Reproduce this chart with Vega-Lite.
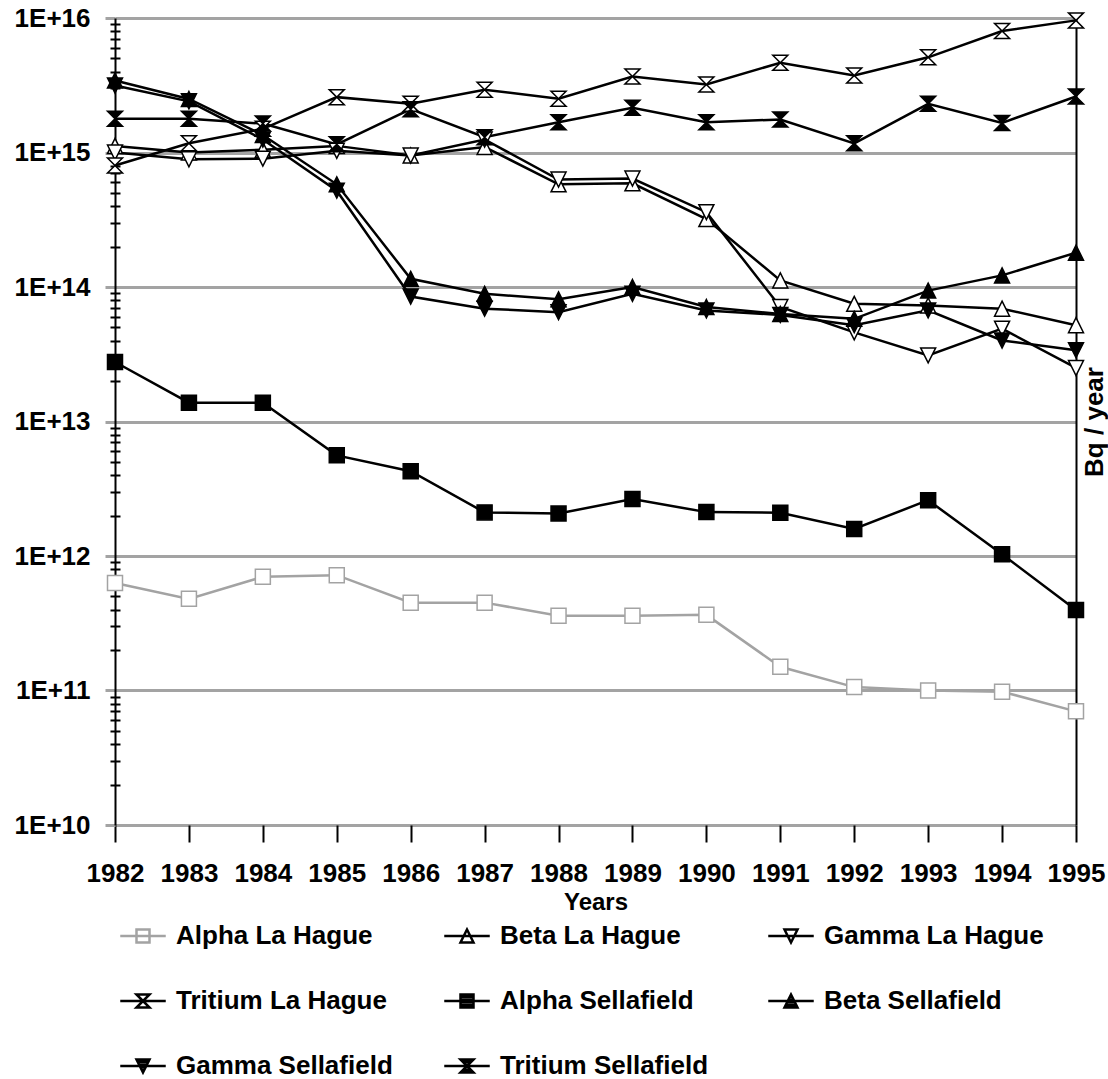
{
  "$schema": "https://vega.github.io/schema/vega-lite/v6.json",
  "width": 961,
  "height": 807,
  "autosize": {"type": "none"},
  "padding": {"left": 115, "top": 18, "right": 32, "bottom": 254},
  "background": "white",
  "config": {
    "view": {"stroke": null},
    "font": "Liberation Sans",
    "axis": {"labelFont": "Liberation Sans", "labelFontWeight": "bold", "labelFontSize": 26, "labelColor": "black", "titleFont": "Liberation Sans", "titleFontWeight": "bold", "titleColor": "black"}
  },
  "data": {"values": [
    {"series":"Alpha La Hague","year":1982,"value":6.3e11},
    {"series":"Alpha La Hague","year":1983,"value":4.8e11},
    {"series":"Alpha La Hague","year":1984,"value":7.0e11},
    {"series":"Alpha La Hague","year":1985,"value":7.2e11},
    {"series":"Alpha La Hague","year":1986,"value":4.5e11},
    {"series":"Alpha La Hague","year":1987,"value":4.5e11},
    {"series":"Alpha La Hague","year":1988,"value":3.6e11},
    {"series":"Alpha La Hague","year":1989,"value":3.6e11},
    {"series":"Alpha La Hague","year":1990,"value":3.65e11},
    {"series":"Alpha La Hague","year":1991,"value":1.5e11},
    {"series":"Alpha La Hague","year":1992,"value":1.06e11},
    {"series":"Alpha La Hague","year":1993,"value":1.0e11},
    {"series":"Alpha La Hague","year":1994,"value":0.98e11},
    {"series":"Alpha La Hague","year":1995,"value":7.0e10},
    {"series":"Beta La Hague","year":1982,"value":1.12e15},
    {"series":"Beta La Hague","year":1983,"value":1.0e15},
    {"series":"Beta La Hague","year":1984,"value":1.05e15},
    {"series":"Beta La Hague","year":1985,"value":1.12e15},
    {"series":"Beta La Hague","year":1986,"value":0.95e15},
    {"series":"Beta La Hague","year":1987,"value":1.1e15},
    {"series":"Beta La Hague","year":1988,"value":5.8e14},
    {"series":"Beta La Hague","year":1989,"value":5.9e14},
    {"series":"Beta La Hague","year":1990,"value":3.2e14},
    {"series":"Beta La Hague","year":1991,"value":1.12e14},
    {"series":"Beta La Hague","year":1992,"value":7.5e13},
    {"series":"Beta La Hague","year":1993,"value":7.3e13},
    {"series":"Beta La Hague","year":1994,"value":6.9e13},
    {"series":"Beta La Hague","year":1995,"value":5.2e13},
    {"series":"Gamma La Hague","year":1982,"value":1.0e15},
    {"series":"Gamma La Hague","year":1983,"value":8.9e14},
    {"series":"Gamma La Hague","year":1984,"value":9.0e14},
    {"series":"Gamma La Hague","year":1985,"value":1.03e15},
    {"series":"Gamma La Hague","year":1986,"value":0.95e15},
    {"series":"Gamma La Hague","year":1987,"value":1.25e15},
    {"series":"Gamma La Hague","year":1988,"value":6.3e14},
    {"series":"Gamma La Hague","year":1989,"value":6.4e14},
    {"series":"Gamma La Hague","year":1990,"value":3.6e14},
    {"series":"Gamma La Hague","year":1991,"value":7.1e13},
    {"series":"Gamma La Hague","year":1992,"value":4.6e13},
    {"series":"Gamma La Hague","year":1993,"value":3.1e13},
    {"series":"Gamma La Hague","year":1994,"value":4.9e13},
    {"series":"Gamma La Hague","year":1995,"value":2.5e13},
    {"series":"Tritium La Hague","year":1982,"value":8.0e14},
    {"series":"Tritium La Hague","year":1983,"value":1.17e15},
    {"series":"Tritium La Hague","year":1984,"value":1.5e15},
    {"series":"Tritium La Hague","year":1985,"value":2.58e15},
    {"series":"Tritium La Hague","year":1986,"value":2.3e15},
    {"series":"Tritium La Hague","year":1987,"value":2.93e15},
    {"series":"Tritium La Hague","year":1988,"value":2.51e15},
    {"series":"Tritium La Hague","year":1989,"value":3.67e15},
    {"series":"Tritium La Hague","year":1990,"value":3.2e15},
    {"series":"Tritium La Hague","year":1991,"value":4.65e15},
    {"series":"Tritium La Hague","year":1992,"value":3.74e15},
    {"series":"Tritium La Hague","year":1993,"value":5.1e15},
    {"series":"Tritium La Hague","year":1994,"value":8.0e15},
    {"series":"Tritium La Hague","year":1995,"value":9.6e15},
    {"series":"Alpha Sellafield","year":1982,"value":2.77e13},
    {"series":"Alpha Sellafield","year":1983,"value":1.38e13},
    {"series":"Alpha Sellafield","year":1984,"value":1.38e13},
    {"series":"Alpha Sellafield","year":1985,"value":5.6e12},
    {"series":"Alpha Sellafield","year":1986,"value":4.27e12},
    {"series":"Alpha Sellafield","year":1987,"value":2.11e12},
    {"series":"Alpha Sellafield","year":1988,"value":2.07e12},
    {"series":"Alpha Sellafield","year":1989,"value":2.65e12},
    {"series":"Alpha Sellafield","year":1990,"value":2.12e12},
    {"series":"Alpha Sellafield","year":1991,"value":2.1e12},
    {"series":"Alpha Sellafield","year":1992,"value":1.59e12},
    {"series":"Alpha Sellafield","year":1993,"value":2.6e12},
    {"series":"Alpha Sellafield","year":1994,"value":1.03e12},
    {"series":"Alpha Sellafield","year":1995,"value":3.96e11},
    {"series":"Beta Sellafield","year":1982,"value":3.43e15},
    {"series":"Beta Sellafield","year":1983,"value":2.5e15},
    {"series":"Beta Sellafield","year":1984,"value":1.35e15},
    {"series":"Beta Sellafield","year":1985,"value":5.8e14},
    {"series":"Beta Sellafield","year":1986,"value":1.15e14},
    {"series":"Beta Sellafield","year":1987,"value":8.9e13},
    {"series":"Beta Sellafield","year":1988,"value":8.1e13},
    {"series":"Beta Sellafield","year":1989,"value":1.0e14},
    {"series":"Beta Sellafield","year":1990,"value":7.1e13},
    {"series":"Beta Sellafield","year":1991,"value":6.3e13},
    {"series":"Beta Sellafield","year":1992,"value":5.8e13},
    {"series":"Beta Sellafield","year":1993,"value":9.4e13},
    {"series":"Beta Sellafield","year":1994,"value":1.22e14},
    {"series":"Beta Sellafield","year":1995,"value":1.8e14},
    {"series":"Gamma Sellafield","year":1982,"value":3.15e15},
    {"series":"Gamma Sellafield","year":1983,"value":2.4e15},
    {"series":"Gamma Sellafield","year":1984,"value":1.25e15},
    {"series":"Gamma Sellafield","year":1985,"value":5.2e14},
    {"series":"Gamma Sellafield","year":1986,"value":8.5e13},
    {"series":"Gamma Sellafield","year":1987,"value":6.9e13},
    {"series":"Gamma Sellafield","year":1988,"value":6.5e13},
    {"series":"Gamma Sellafield","year":1989,"value":8.9e13},
    {"series":"Gamma Sellafield","year":1990,"value":6.7e13},
    {"series":"Gamma Sellafield","year":1991,"value":6.2e13},
    {"series":"Gamma Sellafield","year":1992,"value":5.2e13},
    {"series":"Gamma Sellafield","year":1993,"value":6.7e13},
    {"series":"Gamma Sellafield","year":1994,"value":4.0e13},
    {"series":"Gamma Sellafield","year":1995,"value":3.39e13},
    {"series":"Tritium Sellafield","year":1982,"value":1.78e15},
    {"series":"Tritium Sellafield","year":1983,"value":1.78e15},
    {"series":"Tritium Sellafield","year":1984,"value":1.64e15},
    {"series":"Tritium Sellafield","year":1985,"value":1.15e15},
    {"series":"Tritium Sellafield","year":1986,"value":2.1e15},
    {"series":"Tritium Sellafield","year":1987,"value":1.3e15},
    {"series":"Tritium Sellafield","year":1988,"value":1.68e15},
    {"series":"Tritium Sellafield","year":1989,"value":2.15e15},
    {"series":"Tritium Sellafield","year":1990,"value":1.68e15},
    {"series":"Tritium Sellafield","year":1991,"value":1.76e15},
    {"series":"Tritium Sellafield","year":1992,"value":1.17e15},
    {"series":"Tritium Sellafield","year":1993,"value":2.3e15},
    {"series":"Tritium Sellafield","year":1994,"value":1.66e15},
    {"series":"Tritium Sellafield","year":1995,"value":2.61e15}
  ]},
  "encoding": {
    "x": {
      "field": "year", "type": "quantitative",
      "scale": {"domain": [1982, 1995], "nice": false, "zero": false},
      "axis": {
        "title": "Years", "titleFontSize": 24, "titlePadding": 4,
        "values": [1982,1983,1984,1985,1986,1987,1988,1989,1990,1991,1992,1993,1994,1995],
        "format": "d", "grid": false, "domain": false,
        "tickColor": "black", "tickWidth": 2, "tickSize": 17,
        "labelPadding": 18, "labelFlush": false, "labelOverlap": false
      }
    }
  },
  "layer": [
    {
      "mark": {"type": "line", "strokeWidth": 2.5},
      "encoding": {
        "y": {
          "field": "value", "type": "quantitative",
          "scale": {"type": "log", "domain": [1e10, 1e16], "nice": false},
          "axis": {
            "orient": "left", "title": null,
            "values": [1e10, 1e11, 1e12, 1e13, 1e14, 1e15, 1e16],
            "labelExpr": "'1E+' + round(log(datum.value) / LN10)",
            "grid": true, "gridColor": "#a3a3a3", "gridWidth": 3,
            "tickColor": "#a3a3a3", "tickWidth": 3, "tickSize": 10,
            "domainColor": "black", "domainWidth": 2,
            "labelPadding": 15, "labelOverlap": false, "labelFlush": false
          }
        },
        "stroke": {
          "field": "series", "type": "nominal", "legend": null,
          "scale": {
            "domain": ["Alpha La Hague","Beta La Hague","Gamma La Hague","Tritium La Hague","Alpha Sellafield","Beta Sellafield","Gamma Sellafield","Tritium Sellafield"],
            "range": ["#a3a3a3","black","black","black","black","black","black","black"]
          }
        },
        "detail": {"field": "series"},
        "order": {"field": "year", "type": "quantitative"}
      }
    },
    {
      "mark": {"type": "point", "filled": true, "size": 225, "strokeWidth": 1.5, "opacity": 1},
      "encoding": {
        "y": {
          "field": "value", "type": "quantitative",
          "scale": {"type": "log", "domain": [1e10, 1e16], "nice": false},
          "axis": {
            "orient": "right", "title": "Bq / year", "titleFontSize": 26, "titleAngle": 270,
            "titlePadding": 31, "labels": false, "ticks": false, "grid": false,
            "domainColor": "black", "domainWidth": 2
          }
        },
        "shape": {
          "field": "series", "type": "nominal", "legend": null,
          "scale": {
            "domain": ["Alpha La Hague","Beta La Hague","Gamma La Hague","Tritium La Hague","Alpha Sellafield","Beta Sellafield","Gamma Sellafield","Tritium Sellafield"],
            "range": ["M-1,-1L1,-1L1,1L-1,1Z","M0,-1L1,1L-1,1Z","M-1,-1L1,-1L0,1Z","M-1,-1L1,-1L-1,1L1,1Z","M-1,-1L1,-1L1,1L-1,1Z","M0,-1L1,1L-1,1Z","M-1,-1L1,-1L0,1Z","M-1,-1L1,-1L-1,1L1,1Z"]
          }
        },
        "color": {
          "field": "series", "type": "nominal", "legend": null,
          "scale": {
            "domain": ["Alpha La Hague","Beta La Hague","Gamma La Hague","Tritium La Hague","Alpha Sellafield","Beta Sellafield","Gamma Sellafield","Tritium Sellafield"],
            "range": ["white","white","white","white","black","black","black","black"]
          }
        },
        "stroke": {
          "field": "series", "type": "nominal", "legend": null,
          "scale": {
            "domain": ["Alpha La Hague","Beta La Hague","Gamma La Hague","Tritium La Hague","Alpha Sellafield","Beta Sellafield","Gamma Sellafield","Tritium Sellafield"],
            "range": ["#a3a3a3","black","black","black","black","black","black","black"]
          }
        }
      }
    },
    {
      "mark": {"type": "point", "filled": true, "fill": "white", "size": 169, "strokeWidth": 2.5, "opacity": 0},
      "encoding": {
        "y": {
          "field": "value", "type": "quantitative",
          "scale": {"type": "log", "domain": [1e10, 1e16], "nice": false},
          "axis": {
            "orient": "left", "title": null, "labels": false, "grid": false, "domain": false,
            "values": [2e10,3e10,4e10,5e10,6e10,7e10,8e10,9e10,2e11,3e11,4e11,5e11,6e11,7e11,8e11,9e11,2e12,3e12,4e12,5e12,6e12,7e12,8e12,9e12,2e13,3e13,4e13,5e13,6e13,7e13,8e13,9e13,2e14,3e14,4e14,5e14,6e14,7e14,8e14,9e14,2e15,3e15,4e15,5e15,6e15,7e15,8e15,9e15],
            "tickColor": "black", "tickWidth": 2, "tickSize": 10, "offset": -5
          }
        },
        "shape": {
          "field": "series", "type": "nominal",
          "scale": {
            "domain": ["Alpha La Hague","Beta La Hague","Gamma La Hague","Tritium La Hague","Alpha Sellafield","Beta Sellafield","Gamma Sellafield","Tritium Sellafield"],
            "range": [
              "M-3.5,0L3.5,0M-1,-1L1,-1L1,1L-1,1Z",
              "M-3.5,0L3.5,0M0,-1L1,1L-1,1Z",
              "M-3.5,0L3.5,0M-1,-1L1,-1L0,1Z",
              "M-3.5,0L3.5,0M-1,-1L1,-1L-1,1L1,1Z",
              "M-3.5,0L3.5,0M-1,-1L1,-1L1,1L-1,1ZM-1,-0.6L1,-0.6M-1,-0.2L1,-0.2M-1,0.2L1,0.2M-1,0.6L1,0.6",
              "M-3.5,0L3.5,0M0,-1L1,1L-1,1ZM-0.2,-0.6L0.2,-0.6M-0.4,-0.2L0.4,-0.2M-0.6,0.2L0.6,0.2M-0.8,0.6L0.8,0.6",
              "M-3.5,0L3.5,0M-1,-1L1,-1L0,1ZM-0.8,-0.6L0.8,-0.6M-0.6,-0.2L0.6,-0.2M-0.4,0.2L0.4,0.2M-0.2,0.6L0.2,0.6",
              "M-3.5,0L3.5,0M-1,-1L1,-1L-1,1L1,1ZM-0.6,-0.6L0.6,-0.6M-0.2,-0.2L0.2,-0.2M-0.2,0.2L0.2,0.2M-0.6,0.6L0.6,0.6"
            ]
          },
          "legend": {"orient": "none", "legendX": 15, "legendY": 905, "direction": "horizontal", "columns": 3, "title": null, "labelFont": "Liberation Sans", "labelFontSize": 26, "labelFontWeight": "bold", "labelColor": "black", "labelLimit": 0, "symbolSize": 169, "symbolStrokeWidth": 2.5, "labelOffset": 20, "rowPadding": 39, "columnPadding": 43, "gridAlign": "all", "symbolLimit": 0, "padding": 0,
            "encode": {"symbols": {"update": {"fill": {"signal": "test(/Sellafield/, datum.value) ? 'black' : 'white'"}, "fillOpacity": {"value": 1}, "opacity": {"value": 1}}}}}
        },
        "stroke": {
          "field": "series", "type": "nominal",
          "scale": {
            "domain": ["Alpha La Hague","Beta La Hague","Gamma La Hague","Tritium La Hague","Alpha Sellafield","Beta Sellafield","Gamma Sellafield","Tritium Sellafield"],
            "range": ["#a3a3a3","black","black","black","black","black","black","black"]
          },
          "legend": {"orient": "none", "legendX": 15, "legendY": 905, "direction": "horizontal", "columns": 3, "title": null, "labelFont": "Liberation Sans", "labelFontSize": 26, "labelFontWeight": "bold", "labelColor": "black", "labelLimit": 0, "symbolSize": 169, "symbolStrokeWidth": 2.5, "labelOffset": 20, "rowPadding": 39, "columnPadding": 43, "gridAlign": "all", "symbolLimit": 0, "padding": 0,
            "encode": {"symbols": {"update": {"fill": {"signal": "test(/Sellafield/, datum.value) ? 'black' : 'white'"}, "fillOpacity": {"value": 1}, "opacity": {"value": 1}}}}}
        }
      }
    }
  ],
  "resolve": {
    "scale": {"y": "independent", "shape": "independent", "color": "independent", "stroke": "independent"},
    "axis": {"y": "independent"},
    "legend": {"shape": "independent", "color": "independent", "stroke": "independent"}
  }
}
